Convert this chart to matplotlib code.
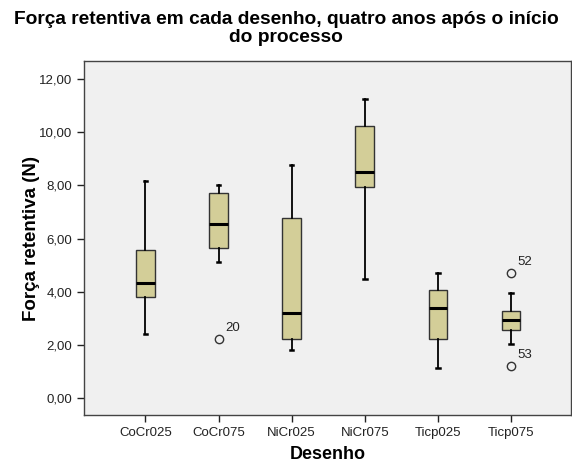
import matplotlib
matplotlib.use("Agg")
import matplotlib.pyplot as plt
from matplotlib.ticker import FuncFormatter

plt.rcParams['font.family'] = ['Liberation Sans', 'DejaVu Sans']

# Resumo dos boxplots por desenho (força retentiva em N)
desenhos = ["CoCr025", "CoCr075", "NiCr025", "NiCr075", "Ticp025", "Ticp075"]
whisker_low = [2.40, 5.11, 1.81, 4.47, 1.12, 2.02]
q1 = [3.79, 5.64, 2.21, 7.93, 2.23, 2.55]
mediana = [4.33, 6.55, 3.22, 8.50, 3.39, 2.95]
q3 = [5.58, 7.71, 6.76, 10.25, 4.06, 3.27]
whisker_high = [8.16, 8.03, 8.77, 11.26, 4.71, 3.94]
outliers = [[], [2.22], [], [], [], [4.69, 1.20]]
outlier_ids = [[], ["20"], [], [], [], ["52", "53"]]

stats = []
for i, nome in enumerate(desenhos):
    stats.append({
        "label": nome,
        "whislo": whisker_low[i],
        "q1": q1[i],
        "med": mediana[i],
        "q3": q3[i],
        "whishi": whisker_high[i],
        "fliers": outliers[i],
    })

fig = plt.figure(figsize=(5.72, 4.66), dpi=100)
ax = fig.add_axes([0.147, 0.109, 0.851, 0.760])
ax.set_facecolor("#F0F0F0")

ax.bxp(
    stats,
    positions=range(1, 7),
    widths=0.255,
    patch_artist=True,
    boxprops=dict(facecolor="#D3CE98", edgecolor="#333333", linewidth=1.0),
    medianprops=dict(color="black", linewidth=2.2),
    whiskerprops=dict(color="black", linewidth=1.3),
    capprops=dict(color="black", linewidth=1.8),
    capwidths=0.05,
    flierprops=dict(marker="o", markersize=6, markerfacecolor="none",
                    markeredgecolor="#333333", markeredgewidth=1.0),
)

# identificação dos valores atípicos
for i, (vals, ids) in enumerate(zip(outliers, outlier_ids)):
    for v, rot in zip(vals, ids):
        ax.annotate(rot, (i + 1, v), xytext=(5, 4), textcoords="offset points",
                    fontsize=9.5, color="#222222", va="bottom", ha="left")

ax.set_xlim(0.16, 6.82)
ax.set_ylim(-0.64, 12.68)
ax.set_yticks([0, 2, 4, 6, 8, 10, 12])
ax.yaxis.set_major_formatter(FuncFormatter(lambda v, p: f"{v:.2f}".replace(".", ",")))
ax.set_xticks(range(1, 7))
ax.set_xticklabels(desenhos)
ax.tick_params(axis="both", labelsize=9.5, colors="#222222", length=5, width=1.0)

for s in ax.spines.values():
    s.set_color("#444444")
    s.set_linewidth(1.0)

ax.set_xlabel("Desenho", fontsize=13, fontweight="bold", labelpad=5)
ax.set_ylabel("Força retentiva (N)", fontsize=13.5, fontweight="bold", labelpad=-1)
fig.suptitle("Força retentiva em cada desenho, quatro anos após o início\ndo processo",
             fontsize=13.8, fontweight="bold", y=0.977, linespacing=1.1)

fig.savefig("out.png", dpi=100)
